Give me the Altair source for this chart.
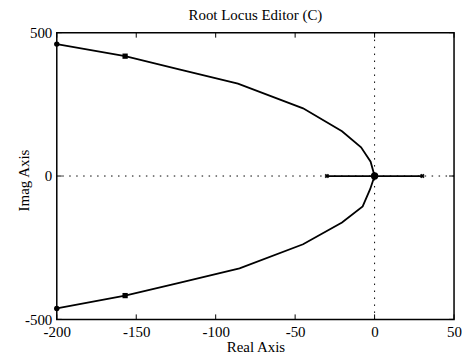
import altair as alt
import pandas as pd

# Root locus branches
upper_x = [-200, -157, -123, -86, -45, -20.5, -8.5, -2.5, 0]
upper_y = [460, 418, 372, 322, 236, 156, 100, 50, 0]
lower_x = [-200, -157, -123, -85, -45, -20.5, -7.5, -2.8, 0]
lower_y = [-462, -417, -373, -322, -238, -162, -106, -46, 0]
real_x = [-30, 0, 30]
real_y = [0, 0, 0]

end_x = [-200, -200]
end_y = [460, -462]
sq_x = [-157, -157]
sq_y = [418, -417]
pole_x = [-30, 30]
pole_y = [0, 0]
cl_x = [0]
cl_y = [0]

x_ticks = [-200, -150, -100, -50, 0, 50]
y_ticks = [-500, 0, 500]

TITLE = "Root Locus Editor (C)"
FONT = "Liberation Serif"

rows = []
for i, (a, b) in enumerate(zip(upper_x, upper_y)):
    rows.append({"x": a, "y": b, "branch": "upper", "o": i})
for i, (a, b) in enumerate(zip(lower_x, lower_y)):
    rows.append({"x": a, "y": b, "branch": "lower", "o": i})
for i, (a, b) in enumerate(zip(real_x, real_y)):
    rows.append({"x": a, "y": b, "branch": "real", "o": i})
branches = pd.DataFrame(rows)

xs = alt.Scale(domain=[-200, 50], nice=False, zero=False)
ys = alt.Scale(domain=[-500, 500], nice=False, zero=False)

common = dict(ticks=False, tickSize=0, domain=False, grid=False,
              labelExpr="toString(datum.value)", labelFlush=False, labelPadding=5,
              labelFont=FONT, labelFontSize=15, labelColor="black",
              titleFont=FONT, titleFontSize=15, titleColor="black",
              titleFontWeight="normal", titleBaseline="alphabetic", titleAlign="center")
xax = alt.Axis(values=x_ticks, title="Real Axis", titleX=199.5, titleY=32, **common)
yax = alt.Axis(values=y_ticks, title="Imag Axis", titleX=-28, titleY=148,
               titleAngle=-90, **common)

base = alt.Chart(branches)

vline = alt.Chart(pd.DataFrame({"x": [0]})).mark_rule(
    color="black", strokeWidth=1, strokeDash=[1.5, 5.5]
).encode(x=alt.X("x:Q", scale=xs, axis=xax))
hline = alt.Chart(pd.DataFrame({"y": [0]})).mark_rule(
    color="black", strokeWidth=1, strokeDash=[1.5, 5.5]
).encode(y=alt.Y("y:Q", scale=ys, axis=yax))

lines = base.mark_line(color="black", strokeWidth=1.8).encode(
    x=alt.X("x:Q", scale=xs, axis=xax),
    y=alt.Y("y:Q", scale=ys, axis=yax),
    detail="branch:N",
    order="o:Q",
)

ends = alt.Chart(pd.DataFrame({"x": end_x, "y": end_y})).mark_point(
    shape="circle", filled=True, color="black", size=30, opacity=1
).encode(x=alt.X("x:Q", scale=xs), y=alt.Y("y:Q", scale=ys))
squares = alt.Chart(pd.DataFrame({"x": sq_x, "y": sq_y})).mark_point(
    shape="square", filled=True, color="black", size=28, opacity=1
).encode(x=alt.X("x:Q", scale=xs), y=alt.Y("y:Q", scale=ys))
poles = alt.Chart(pd.DataFrame({"x": pole_x, "y": pole_y})).mark_point(
    shape="cross", filled=True, color="black", size=22, opacity=1, angle=45
).encode(x=alt.X("x:Q", scale=xs), y=alt.Y("y:Q", scale=ys))
cl = alt.Chart(pd.DataFrame({"x": cl_x, "y": cl_y})).mark_point(
    shape="circle", filled=True, color="black", size=55, opacity=1
).encode(x=alt.X("x:Q", scale=xs), y=alt.Y("y:Q", scale=ys))

xt = pd.DataFrame({"x": x_ticks})
yt = pd.DataFrame({"y": y_ticks})
tick_bottom = alt.Chart(xt).mark_rule(color="black", strokeWidth=1).encode(
    x=alt.X("x:Q", scale=xs), y=alt.value(288), y2=alt.value(283))
tick_top = alt.Chart(xt).mark_rule(color="black", strokeWidth=1).encode(
    x=alt.X("x:Q", scale=xs), y=alt.value(0), y2=alt.value(5))
tick_left = alt.Chart(yt).mark_rule(color="black", strokeWidth=1).encode(
    y=alt.Y("y:Q", scale=ys), x=alt.value(0), x2=alt.value(5))
tick_right = alt.Chart(yt).mark_rule(color="black", strokeWidth=1).encode(
    y=alt.Y("y:Q", scale=ys), x=alt.value(399), x2=alt.value(394))

title = alt.Chart(pd.DataFrame({"t": [TITLE]})).mark_text(
    font=FONT, fontSize=15, color="black", align="center", baseline="alphabetic"
).encode(text="t:N", x=alt.value(199.5), y=alt.value(-13))

chart = alt.layer(
    vline, hline, lines, tick_bottom, tick_top, tick_left, tick_right,
    ends, squares, poles, cl, title
).properties(
    width=399, height=288,
    background="white",
    autosize=alt.AutoSizeParams(type="none"),
    padding={"left": 49, "top": 24, "right": 8, "bottom": 34},
).configure_view(
    stroke="black", strokeWidth=1.5
)

chart.save("out.html", embed_options={"renderer": "svg", "actions": False})
